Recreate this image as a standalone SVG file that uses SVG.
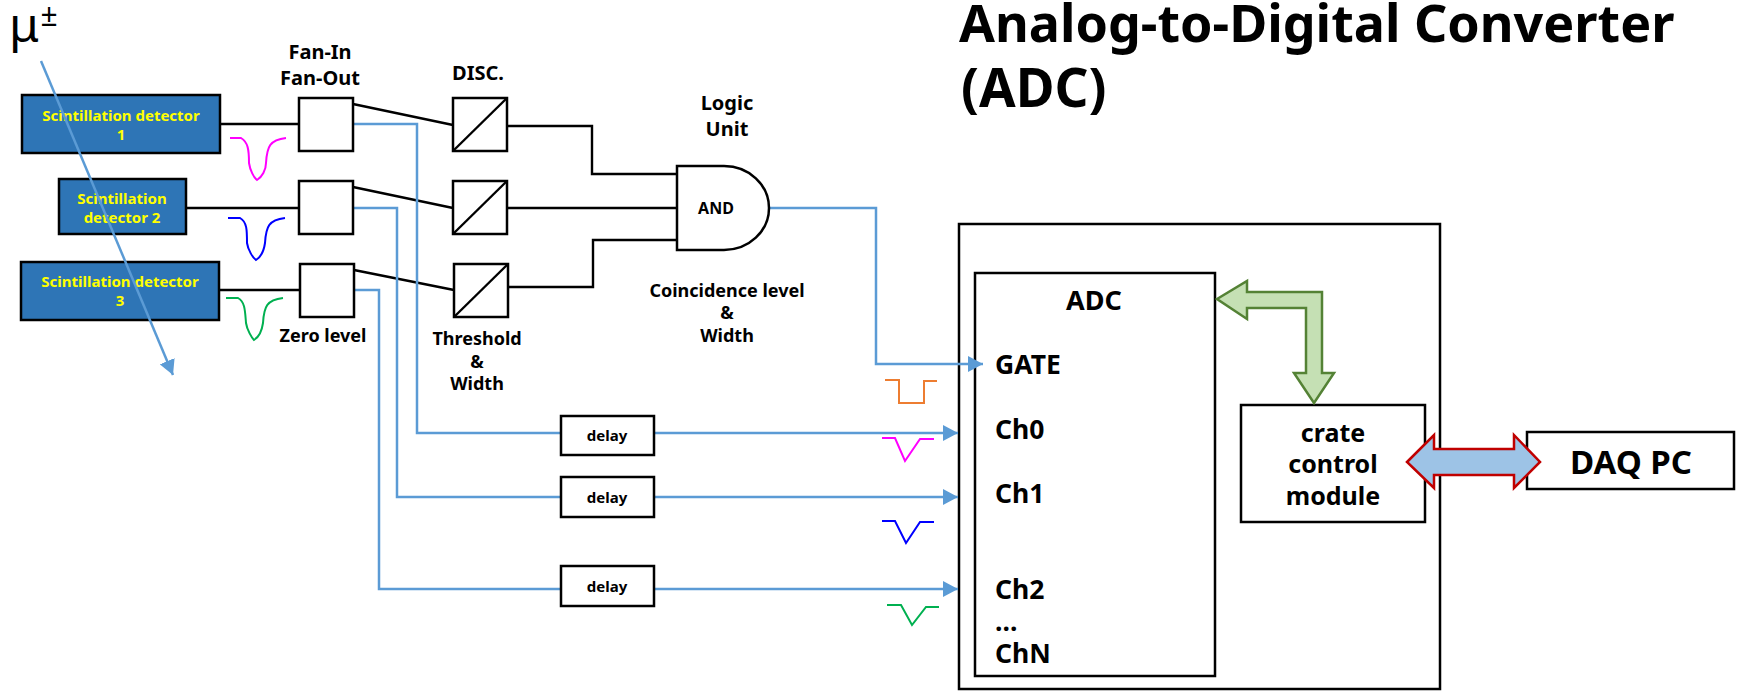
<svg xmlns="http://www.w3.org/2000/svg" width="1741" height="691" viewBox="0 0 1741 691">
<style>
text{font-family:"Noto Sans","Open Sans","Liberation Sans",sans-serif;font-weight:700;fill:#000;text-anchor:middle}
.box{fill:#fff;stroke:#000;stroke-width:2.5}
.det{fill:#2E75B6;stroke:#000;stroke-width:2.5}
.dt{fill:#FF0;font-size:15px}
.lb{font-size:18px}
.top{font-size:20px}
.ch{font-size:26.5px;text-anchor:start}
.w{fill:none;stroke:#000;stroke-width:2.4}
.b{fill:none;stroke:#5B9BD5;stroke-width:2.5}
.p{fill:none;stroke-width:2}
.title{font-size:52px;text-anchor:start}
</style>
<defs>
<marker id="ah" markerUnits="userSpaceOnUse" markerWidth="16" markerHeight="16" refX="15" refY="8" orient="auto"><path d="M0 0L15 8L0 16Z" fill="#5B9BD5"/></marker>
</defs>
<text class="title" x="959" y="42">Analog-to-Digital Converter</text>
<text class="title" x="961" y="107" style="font-size:53px">(ADC)</text>
<g id="outer-crate"><rect class="box" x="959" y="224" width="481" height="465"/></g>
<g id="adc"><rect class="box" x="975" y="273" width="240" height="403"/>
<text x="1094" y="310" style="font-size:27px">ADC</text>
<text class="ch" x="995" y="374">GATE</text><text class="ch" x="995" y="439">Ch0</text><text class="ch" x="995" y="503">Ch1</text><text class="ch" x="995" y="599">Ch2</text><text class="ch" x="995" y="631">...</text><text class="ch" x="995" y="663">ChN</text></g>
<g id="crate-control"><rect class="box" x="1241" y="405" width="184" height="117"/>
<text x="1333" y="442" style="font-size:25px">crate</text><text x="1333" y="473" style="font-size:25px">control</text><text x="1333" y="505" style="font-size:25px">module</text></g>
<g id="daq-pc"><rect class="box" x="1527" y="432" width="207" height="57"/><text x="1631" y="474" style="font-size:33px">DAQ PC</text></g>
<g id="detector-1"><rect class="det" x="22" y="95" width="198" height="58"/><text class="dt" x="121" y="121">Scintillation detector</text><text class="dt" x="121" y="140">1</text></g>
<g id="detector-2"><rect class="det" x="59" y="179" width="127" height="55"/><text class="dt" x="122" y="204">Scintillation</text><text class="dt" x="122" y="223">detector 2</text></g>
<g id="detector-3"><rect class="det" x="21" y="262" width="198" height="58"/><text class="dt" x="120" y="287">Scintillation detector</text><text class="dt" x="120" y="306">3</text></g>
<g id="connectors">
<path class="w" d="M220 124H299M186 208H299M219 290H300"/>
<path class="w" d="M353 104L453 125M353 187L453 208M354 270L454 290"/>
<path class="w" d="M507 126H592V174H677M507 208H677M508 287H593V240H677"/>
<path class="b" d="M353 124H417V433H561M353 208H397V497H561M354 290H379V589H561"/>
<path class="b" d="M654 433H958" marker-end="url(#ah)"/>
<path class="b" d="M654 497H958" marker-end="url(#ah)"/>
<path class="b" d="M654 589H958" marker-end="url(#ah)"/>
<path class="b" d="M769 208H876V364H983" marker-end="url(#ah)"/>
</g>
<g id="fan-1"><rect class="box" x="299" y="98" width="54" height="53"/></g>
<g id="fan-2"><rect class="box" x="299" y="181" width="54" height="53"/></g>
<g id="fan-3"><rect class="box" x="300" y="264" width="54" height="53"/></g>
<g id="disc-1"><rect class="box" x="453" y="98" width="54" height="53"/><path class="w" d="M453 151L507 98"/></g>
<g id="disc-2"><rect class="box" x="453" y="181" width="54" height="53"/><path class="w" d="M453 234L507 181"/></g>
<g id="disc-3"><rect class="box" x="454" y="264" width="54" height="53"/><path class="w" d="M454 317L508 264"/></g>
<g id="and-gate"><path class="box" d="M677 166H724A45 42 0 0 1 724 250H677Z"/><text x="716" y="214" style="font-size:16px">AND</text></g>
<g id="delay-0"><rect class="box" x="561" y="416" width="93" height="39"/><text x="607" y="441" style="font-size:15px">delay</text></g>
<g id="delay-1"><rect class="box" x="561" y="477" width="93" height="40"/><text x="607" y="503" style="font-size:15px">delay</text></g>
<g id="delay-2"><rect class="box" x="561" y="566" width="93" height="40"/><text x="607" y="592" style="font-size:15px">delay</text></g>
<text class="top" x="320" y="59">Fan-In</text><text class="top" x="320" y="85">Fan-Out</text>
<text class="top" x="478" y="80">DISC.</text>
<text class="top" x="727" y="110">Logic</text><text class="top" x="727" y="136">Unit</text>
<text class="lb" x="323" y="342">Zero level</text>
<text class="lb" x="477" y="345">Threshold</text><text class="lb" x="477" y="368">&amp;</text><text class="lb" x="477" y="390">Width</text>
<text class="lb" x="727" y="297">Coincidence level</text><text class="lb" x="727" y="319">&amp;</text><text class="lb" x="727" y="342">Width</text>
<g id="pulses">
<path class="p" stroke="#FF00FF" d="M230 138H241C248 142 249 150 249 163C250 170 254 178 257 180C262 177 266 170 266 163C267 146 270 140 286 138"/>
<path class="p" stroke="#0000FF" d="M228 218H240C247 222 247 230 247 243C248 250 253 258 256 260C261 257 264 250 265 243C266 226 269 220 285 218"/>
<path class="p" stroke="#00B050" d="M226 298H238C245 302 245 310 246 323C247 330 252 338 254 340C259 337 262 330 263 323C264 306 267 300 283 298"/>
<path class="p" stroke="#ED7D31" d="M885 380H899V403H924V381H937"/>
<path class="p" stroke="#FF00FF" d="M882 438H895L905 461L920 439H934"/>
<path class="p" stroke="#0000FF" d="M882 521H895L906 543L920 522H934"/>
<path class="p" stroke="#00B050" d="M887 605H901L912 625L926 607H939"/>
</g>
<g id="bus-arrows">
<path fill="#C5E0B4" stroke="#548235" stroke-width="2.5" d="M1217 299L1247 281V292H1322V373H1334L1314 403L1294 373H1306V308H1247V319Z"/>
<path fill="#9DC3E6" stroke="#C00000" stroke-width="2.5" d="M1407 462L1434 435V449H1514V435L1540 462L1514 488V475H1434V488Z"/>
</g>
<g id="muon">
<path d="M41 61L173 375" fill="none" stroke="#5B9BD5" stroke-width="2.5" marker-end="url(#ah)"/>
<text x="24" y="42" style="font-size:48px;font-weight:400">μ</text>
<text x="49" y="26" style="font-size:30px;font-weight:400">±</text>
</g>
</svg>
